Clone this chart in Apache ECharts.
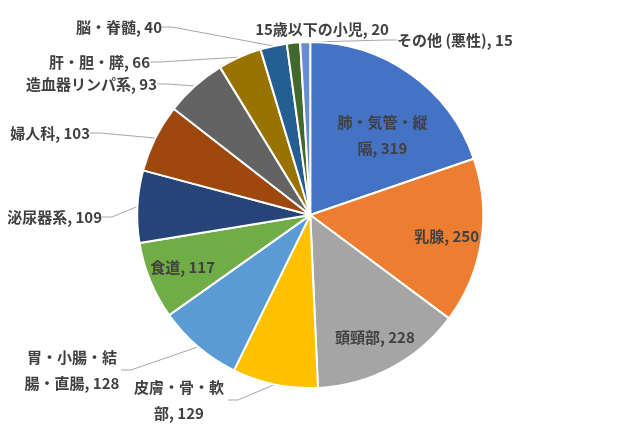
<!DOCTYPE html>
<html>
<head>
<meta charset="utf-8">
<script src="https://cdn.jsdelivr.net/npm/echarts@6/dist/echarts.min.js"></script>
<style>
  html, body { margin: 0; padding: 0; background: #fff; }
  #chart { width: 618px; height: 431px; }
</style>
</head>
<body>
<div id="chart"></div>
<script>
// categories + counts, clockwise from 12 o'clock
var categories = ["肺・気管・縦隔", "乳腺", "頭頸部", "皮膚・骨・軟部", "胃・小腸・結腸・直腸", "食道",
    "泌尿器系", "婦人科", "造血器リンパ系", "肝・胆・膵", "脳・脊髄", "15歳以下の小児", "その他 (悪性)"];
var counts = [319, 250, 228, 129, 128, 117, 109, 103, 93, 66, 40, 20, 15];
var palette = ["#4472C4", "#ED7D31", "#A5A5A5", "#FFC000", "#5B9BD5", "#70AD47",
    "#264478", "#9E480E", "#636363", "#997300", "#255E91", "#43682B", "#698ED0"];

// slices whose label sits inside the wedge
var insideLabels = [0, 1, 2, 5];
// long labels that wrap onto two lines
var wrapped = [0, 3, 4];

// where Excel put the outside labels
var labelSpots = {
    3: { x: 179, y: 400, align: "center" },
    4: { x: 72, y: 370, align: "center" },
    6: { x: 102, y: 217, align: "right" },
    7: { x: 90, y: 133, align: "right" },
    8: { x: 157, y: 84, align: "right" },
    9: { x: 150, y: 62, align: "right" },
    10: { x: 162, y: 27, align: "right" },
    11: { x: 322, y: 29, align: "center" },
    12: { x: 397, y: 40, align: "left" }
};

var labelFont = {
    fontFamily: "Noto Sans CJK JP",
    fontWeight: "bold",
    fontSize: 15,
    color: "#404040",
    lineHeight: 26
};

var chart = echarts.init(document.getElementById("chart"), null, { renderer: "canvas" });

function labelFor(i, show) {
    var l = { show: show };
    if (wrapped.indexOf(i) >= 0) {
        l.width = 98;
        l.overflow = "break";
    }
    return l;
}

var pieData = categories.map(function (name, i) {
    var outside = insideLabels.indexOf(i) < 0;
    return {
        name: name,
        value: counts[i],
        itemStyle: { color: palette[i] },
        label: labelFor(i, outside),
        labelLine: { show: outside && i !== 11 }
    };
});

// transparent ring just to carry the inside labels further out than the half radius
var ringData = categories.map(function (name, i) {
    return {
        name: name,
        value: counts[i],
        label: labelFor(i, insideLabels.indexOf(i) >= 0)
    };
});

var option = {
    animation: false,
    series: [
        {
            type: "pie",
            center: ["50.2%", "49.9%"],
            radius: 173,
            startAngle: 90,
            avoidLabelOverlap: false,
            itemStyle: { borderColor: "#fff", borderWidth: 2 },
            label: Object.assign({
                position: "outside",
                formatter: "{b}, {c}"
            }, labelFont),
            labelLine: {
                length: 10,
                length2: 10,
                lineStyle: { color: "#A6A6A6", width: 1 }
            },
            labelLayout: function (params) {
                var s = labelSpots[params.dataIndex];
                if (!s) return {};
                return { x: s.x, y: s.y, align: s.align, verticalAlign: "middle" };
            },
            emphasis: { disabled: true },
            data: pieData
        },
        {
            type: "pie",
            center: ["50.2%", "49.9%"],
            radius: [97, 173],
            startAngle: 90,
            silent: true,
            itemStyle: { color: "rgba(0,0,0,0)", borderWidth: 0 },
            label: Object.assign({
                position: "inside",
                formatter: "{b}, {c}"
            }, labelFont),
            labelLine: { show: false },
            labelLayout: function (params) {
                // two-line label of the big blue wedge sits lower
                if (params.dataIndex === 0) return { dx: -8, dy: 33 };
                return {};
            },
            emphasis: { disabled: true },
            data: ringData
        }
    ]
};

chart.setOption(option);
</script>
</body>
</html>
